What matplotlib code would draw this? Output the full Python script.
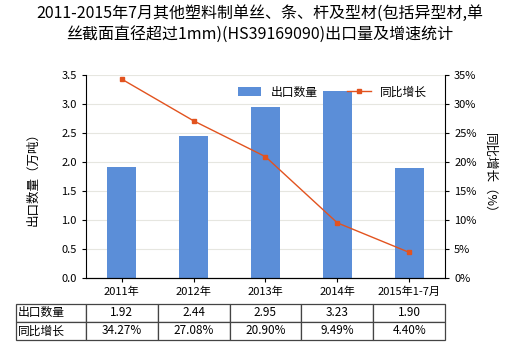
import matplotlib.pyplot as plt
import numpy as np

plt.rcParams['font.family'] = ['Noto Sans CJK SC', 'DejaVu Sans']

years = ['2011年', '2012年', '2013年', '2014年', '2015年1-7月']
export_qty = [1.92, 2.44, 2.95, 3.23, 1.90]
growth = [34.27, 27.08, 20.90, 9.49, 4.40]
qty_labels = ['1.92', '2.44', '2.95', '3.23', '1.90']
growth_labels = ['34.27%', '27.08%', '20.90%', '9.49%', '4.40%']

bar_color = '#5b8ed8'
line_color = '#e2531f'

fig = plt.figure(figsize=(5.2, 3.5), dpi=100)
ax = fig.add_axes([0.165, 0.206, 0.691, 0.58])
x = np.arange(len(years))

ax.bar(x, export_qty, width=0.4, color=bar_color, label='出口数量', zorder=2)
ax.set_ylim(0, 3.5)
ax.set_yticks(np.arange(0, 3.51, 0.5))
ax.set_yticklabels(['%.1f' % v for v in np.arange(0, 3.51, 0.5)])
ax.set_xlim(-0.5, len(years) - 0.5)
ax.set_xticks(x)
ax.set_xticklabels(years)
ax.grid(axis='y', color='#e6e6e0', lw=0.8, zorder=0)
ax.set_ylabel('出口数量（万吨）', fontsize=9, labelpad=16)
for s in ['top', 'right']:
    ax.spines[s].set_visible(False)
ax.tick_params(labelsize=8, length=3)

ax2 = ax.twinx()
ax2.plot(x, growth, color=line_color, lw=1, marker='s', markersize=3.2, label='同比增长')
ax2.set_ylim(0, 35)
ax2.set_yticks(np.arange(0, 36, 5))
ax2.set_yticklabels(['%d%%' % v for v in np.arange(0, 36, 5)])
ax2.set_ylabel('同比增长（%）', fontsize=9, rotation=270, labelpad=14)
for s in ['top', 'left']:
    ax2.spines[s].set_visible(False)
ax2.tick_params(labelsize=8, length=3)

h1, l1 = ax.get_legend_handles_labels()
h2, l2 = ax2.get_legend_handles_labels()
ax.legend(h1 + h2, l1 + l2, loc='upper right', bbox_to_anchor=(0.98, 1.0), ncol=2,
          frameon=False, fontsize=8.5, handlelength=2.0, columnspacing=2.5)

fig.suptitle('2011-2015年7月其他塑料制单丝、条、杆及型材(包括异型材,单\n丝截面直径超过1mm)(HS39169090)出口量及增速统计',
             fontsize=11.5, y=0.985, linespacing=1.25)

cells = [['出口数量'] + qty_labels, ['同比增长'] + growth_labels]
tbl = ax.table(cellText=cells, cellLoc='center',
               colWidths=[70 / 429] + [71.8 / 429] * 5,
               bbox=[-0.195, -0.305, 1.195, 0.177])
tbl.auto_set_font_size(False)
tbl.set_fontsize(8.5)
for (r, c), cell in tbl.get_celld().items():
    cell.set_edgecolor('#444444')
    cell.set_linewidth(0.9)
    if c == 0:
        cell.set_text_props(ha='left')
        cell.PAD = 0.03

fig.savefig('out.png', dpi=100)
